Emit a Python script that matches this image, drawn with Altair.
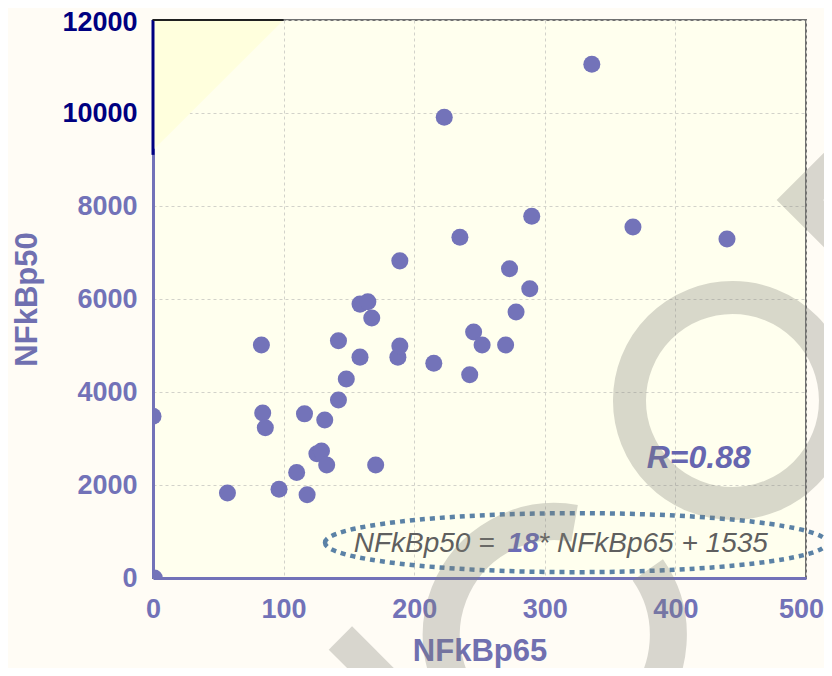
import altair as alt
import pandas as pd

# ---- data ----
nfkbp65 = [0, 1, 57, 83, 84, 86, 96.5, 110, 116, 118,
           125.5, 129, 131.5, 133, 142, 142, 148, 158.5, 158.5, 164.5,
           167.5, 170.5, 187.5, 189, 189, 215, 223, 235, 242.5, 245.5,
           252, 270, 273, 278, 288.5, 290, 336, 367.5, 439.5]
nfkbp50 = [3480, 0, 1830, 5010, 3550, 3230, 1910, 2270, 3530, 1790,
           2670, 2730, 3400, 2430, 3830, 5100, 4280, 4750, 5890, 5940,
           5590, 2430, 4750, 6820, 4990, 4620, 9910, 7330, 4370, 5290,
           5010, 5010, 6650, 5720, 6220, 7780, 11050, 7550, 7290]
x_ticks = [0, 100, 200, 300, 400, 500]
y_ticks = [0, 2000, 4000, 6000, 8000, 10000, 12000]

eq_left = ["NFkBp50 ="]
eq_mid = ["18"]
eq_right = ["* NFkBp65 + 1535"]
r_label = ["R=0.88"]

LAV = "#7272B8"
FONT = "Liberation Sans"

df = pd.DataFrame({"NFkBp65": nfkbp65, "NFkBp50": nfkbp50})
xs = alt.Scale(domain=[0, 500], nice=False, zero=False)
ys = alt.Scale(domain=[0, 12000], nice=False, zero=False)

xaxis = alt.Axis(values=x_ticks, title="NFkBp65", format="d", ticks=False,
                 labelFont=FONT, labelFontWeight="bold", labelFontSize=27,
                 labelColor=LAV, labelPadding=18, labelFlush=False,
                 labelOffset={"condition": {"test": "datum.value == 500", "value": -5}, "value": 0},
                 domainColor=LAV, domainWidth=3,
                 gridColor="#D2D2CA", gridDash=[3, 3], gridWidth=1,
                 titleFont=FONT, titleFontWeight="bold", titleFontSize=31,
                 titleColor="#7070B0", titlePadding=14)
yaxis = alt.Axis(values=y_ticks, title="NFkBp50", format="d", ticks=False,
                 labelFont=FONT, labelFontWeight="bold", labelFontSize=27,
                 labelColor={"condition": {"test": "datum.value >= 10000", "value": "#000080"},
                             "value": LAV},
                 labelOffset={"condition": {"test": "datum.value == 12000", "value": 2}, "value": 0},
                 labelPadding=16, labelFlush=False,
                 domainColor=LAV, domainWidth=3,
                 gridColor="#D2D2CA", gridDash=[3, 3], gridWidth=1,
                 titleFont=FONT, titleFontWeight="bold", titleFontSize=31,
                 titleColor="#7070B0", titlePadding=18)

# light triangle at top-left of plot
tri = pd.DataFrame({"x": [0, 100], "y": [9200, 12000], "y2": [12000, 12000]})
tri_layer = alt.Chart(tri).mark_area(color="#FFFFDD", clip=True).encode(
    x=alt.X("x:Q", scale=xs, axis=xaxis), y=alt.Y("y:Q", scale=ys, axis=yaxis), y2="y2:Q")

points = alt.Chart(df).mark_circle(size=290, color="#7373B9", opacity=1, clip=True).encode(
    x=alt.X("NFkBp65:Q", scale=xs, axis=xaxis),
    y=alt.Y("NFkBp50:Q", scale=ys, axis=yaxis))

# darker segments of frame
seg_v = pd.DataFrame({"x": [0], "y": [9100], "y2": [12000]})
seg_v_layer = alt.Chart(seg_v).mark_rule(color="#000080", strokeWidth=3, clip=False).encode(
    x=alt.X("x:Q", scale=xs), y=alt.Y("y:Q", scale=ys), y2="y2:Q")
seg_h = pd.DataFrame({"x": [0], "x2": [100], "y": [12000]})
seg_h_layer = alt.Chart(seg_h).mark_rule(color="#202020", strokeWidth=2, clip=False).encode(
    x=alt.X("x:Q", scale=xs), x2="x2:Q", y=alt.Y("y:Q", scale=ys))

# equation with dotted ellipse
ell = pd.DataFrame({"x": [323.9], "y": [760]})
ellipse_path = ("M -1 0 C -1 -0.065 -0.5523 -0.1175 0 -0.1175 "
                "C 0.5523 -0.1175 1 -0.065 1 0 "
                "C 1 0.065 0.5523 0.1175 0 0.1175 "
                "C -0.5523 0.1175 -1 0.065 -1 0 Z")
ellipse = alt.Chart(ell).mark_point(shape=ellipse_path, size=252004, filled=False,
                                    stroke="#5B82A6", strokeWidth=4.5, strokeDash=[5, 5],
                                    opacity=1, clip=False).encode(
    x=alt.X("x:Q", scale=xs), y=alt.Y("y:Q", scale=ys))

eq1 = alt.Chart(pd.DataFrame({"x": [261.5], "y": [559], "t": eq_left})).mark_text(
    font=FONT, fontSize=28, fontStyle="italic", color="#5F5F5F", align="right",
    baseline="alphabetic", clip=False).encode(
    x=alt.X("x:Q", scale=xs), y=alt.Y("y:Q", scale=ys), text="t:N")
eq2 = alt.Chart(pd.DataFrame({"x": [271.5], "y": [559], "t": eq_mid})).mark_text(
    font=FONT, fontSize=28, fontStyle="italic", fontWeight="bold", color="#6B6BB8",
    align="left", baseline="alphabetic", clip=False).encode(
    x=alt.X("x:Q", scale=xs), y=alt.Y("y:Q", scale=ys), text="t:N")
eq3 = alt.Chart(pd.DataFrame({"x": [295.0], "y": [559], "t": eq_right})).mark_text(
    font=FONT, fontSize=28, fontStyle="italic", color="#5F5F5F", align="left",
    baseline="alphabetic", clip=False).encode(
    x=alt.X("x:Q", scale=xs), y=alt.Y("y:Q", scale=ys), text="t:N")

rtxt = alt.Chart(pd.DataFrame({"x": [378], "y": [2366], "t": r_label})).mark_text(
    font=FONT, fontSize=32, fontStyle="italic", fontWeight="bold", color="#6666B0",
    align="left", baseline="alphabetic", clip=False).encode(
    x=alt.X("x:Q", scale=xs), y=alt.Y("y:Q", scale=ys), text="t:N")

# faint watermark shapes
WM = "#808078"
ring = alt.Chart(pd.DataFrame({"x": [443.7], "y": [3817]})).mark_point(
    shape="circle", size=42436, filled=False, stroke=WM, strokeWidth=33,
    opacity=0.3, clip=False).encode(x=alt.X("x:Q", scale=xs), y=alt.Y("y:Q", scale=ys))
sarc = alt.Chart(pd.DataFrame({"x": [307.7], "y": [-1226]})).mark_point(
    shape="M 0.174 -0.985 A 1 1 0 1 0 0.819 -0.574", size=51529, filled=False,
    stroke=WM, strokeWidth=37, opacity=0.3, clip=False).encode(
    x=alt.X("x:Q", scale=xs), y=alt.Y("y:Q", scale=ys))
chev = alt.Chart(pd.DataFrame({"x": [495.4], "y": [8129]})).mark_point(
    shape="M 2 -2 L 0 0 L 2 2", size=3600, filled=False, stroke=WM, strokeWidth=33,
    opacity=0.3, clip=False).encode(x=alt.X("x:Q", scale=xs), y=alt.Y("y:Q", scale=ys))
diag = alt.Chart(pd.DataFrame({"x": [143.5], "y": [-1290]})).mark_point(
    shape="M 0 0 L 1 1", size=14400, filled=False, stroke=WM, strokeWidth=33,
    opacity=0.3, clip=False).encode(x=alt.X("x:Q", scale=xs), y=alt.Y("y:Q", scale=ys))

chart = alt.layer(tri_layer, points, seg_v_layer, seg_h_layer, ellipse, eq1, eq2, eq3, rtxt,
                  ring, sarc, chev, diag).properties(
    width=653, height=558,
    background="#FFFCF5",
    padding={"left": 145, "top": 12, "right": 18, "bottom": 90},
    autosize=alt.AutoSizeParams(type="none"),
).configure_view(stroke="#707070", strokeWidth=2, fill="#FFFFEE")

chart.save("out.html", embed_options={"renderer": "svg", "actions": False})
